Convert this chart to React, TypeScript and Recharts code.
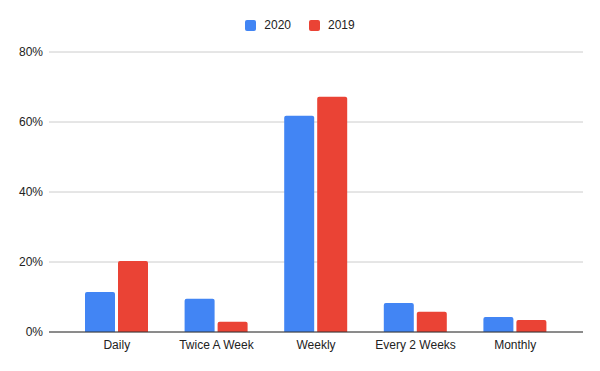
import React from "react";
import { BarChart, Bar, XAxis, YAxis, CartesianGrid } from "recharts";

const categories = ["Daily", "Twice A Week", "Weekly", "Every 2 Weeks", "Monthly"];
const values2020 = [11.4, 9.5, 61.8, 8.3, 4.3];
const values2019 = [20.3, 2.9, 67.2, 5.8, 3.4];
const yTicks = [0, 20, 40, 60, 80];

const data = categories.map((c, i) => ({ name: c, y2020: values2020[i], y2019: values2019[i] }));

const BLUE = "#4285F4";
const RED = "#EA4335";
const FONT = "Arial, 'Liberation Sans', sans-serif";

const LegendBox = () => (
  <div style={{ position: "absolute", top: 18, left: 0, width: 600, display: "flex", justifyContent: "center", alignItems: "center", fontFamily: FONT, fontSize: 12, color: "#222", lineHeight: "14px" }}>
    <span style={{ display: "inline-block", width: 11, height: 11, background: BLUE, borderRadius: 2, marginRight: 8 }} />
    <span style={{ marginRight: 18 }}>2020</span>
    <span style={{ display: "inline-block", width: 11, height: 11, background: RED, borderRadius: 2, marginRight: 8 }} />
    <span>2019</span>
  </div>
);

export default function App() {
  return (
    <div style={{ position: "absolute", left: 0, top: 0, width: 600, height: 371, background: "#fff" }}>
      <BarChart width={600} height={371} data={data} margin={{ top: 52, right: 17, bottom: 9, left: 0 }} barGap={3} barSize={30}>
        <CartesianGrid vertical={false} stroke="#cccccc" />
        <XAxis
          dataKey="name"
          height={30}
          padding={{ left: 18, right: 18 }}
          tickLine={false}
          axisLine={{ stroke: "#333333" }}
          tick={{ fontFamily: FONT, fontSize: 12, fill: "#222" }}
          tickMargin={2}
          interval={0}
        />
        <YAxis
          width={49}
          domain={[0, 80]}
          ticks={yTicks}
          tickFormatter={(v: number) => `${v}%`}
          tickLine={false}
          axisLine={false}
          tick={{ fontFamily: FONT, fontSize: 12, fill: "#222" }}
          tickMargin={6}
          tickSize={0}
        />
        <Bar dataKey="y2020" fill={BLUE} radius={[2, 2, 0, 0]} isAnimationActive={false} />
        <Bar dataKey="y2019" fill={RED} radius={[2, 2, 0, 0]} isAnimationActive={false} />
      </BarChart>
      <LegendBox />
    </div>
  );
}
